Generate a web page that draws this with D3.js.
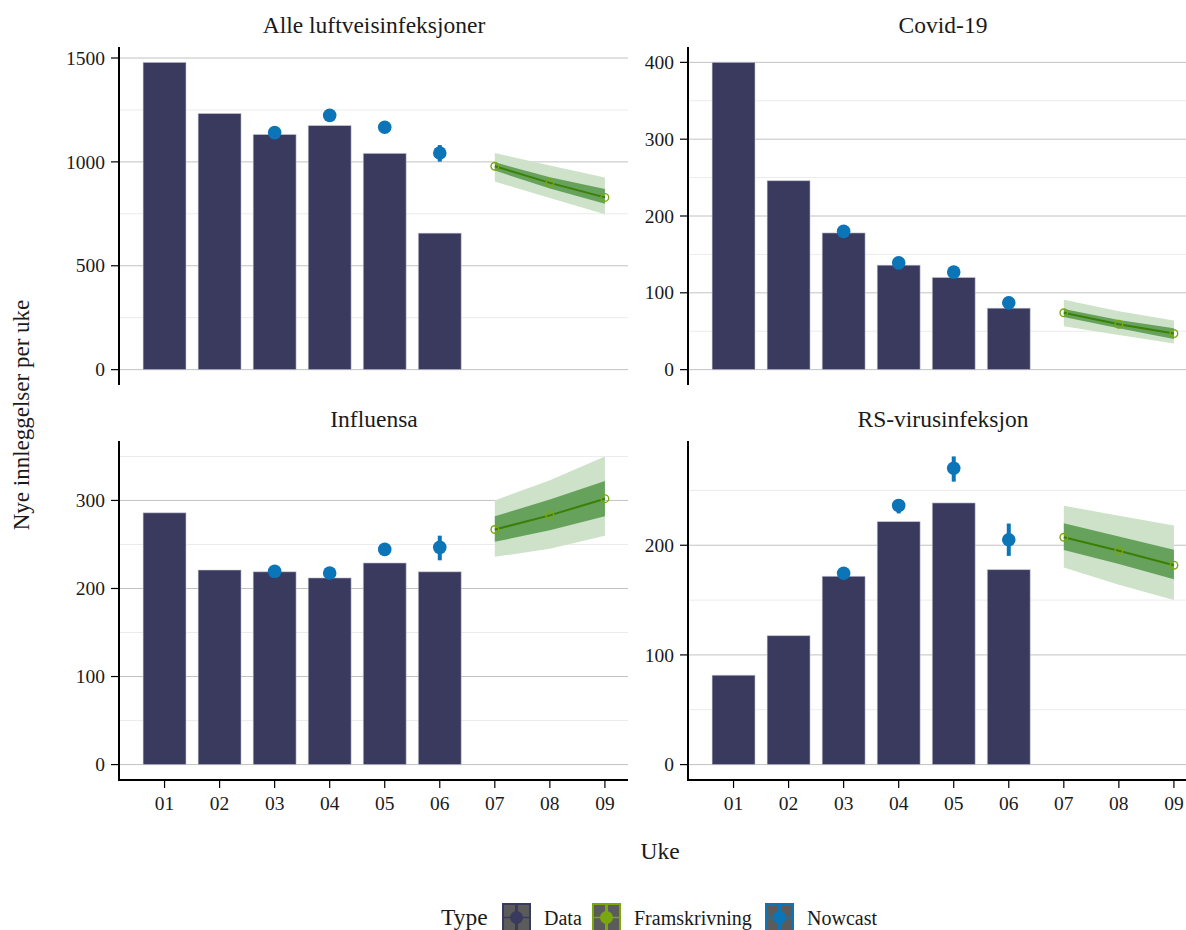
<!DOCTYPE html>
<html>
<head>
<meta charset="utf-8">
<script src="https://cdn.jsdelivr.net/npm/d3@7"></script>
<style>
  html, body { margin: 0; padding: 0; background: #ffffff; }
  svg { display: block; }
  text { font-family: "Liberation Serif", "DejaVu Serif", serif; fill: #1a1a1a; }
</style>
</head>
<body>
<svg id="chart" width="1186" height="930"></svg>
<script>
// Weekly hospital admissions: observed data, nowcast and projection per category
const weeks = ["01", "02", "03", "04", "05", "06", "07", "08", "09"];
const panelTitles = ["Alle luftveisinfeksjoner", "Covid-19", "Influensa", "RS-virusinfeksjon"];

// Observed admissions, weeks 01-06
const dataAlle  = [1479, 1233, 1132, 1175, 1041, 657];
const dataCovid = [400, 246, 178, 136, 120, 80];
const dataInfl  = [286, 221, 219, 212, 229, 219];
const dataRSV   = [81.5, 117.6, 171.7, 221.6, 238.6, 177.8];

// Nowcast, weeks 03-06 (estimate, lower, upper)
const nowcastWeeks = ["03", "04", "05", "06"];
const nowAlle   = [1141, 1224, 1167, 1043];
const nowAlleLo = [1135, 1216, 1157, 1001];
const nowAlleHi = [1148, 1232, 1177, 1081];
const nowCovid   = [180, 139, 127, 87];
const nowCovidLo = [177, 136, 124, 78];
const nowCovidHi = [183, 142, 130, 95];
const nowInfl   = [219.5, 217.6, 244.4, 246.7];
const nowInflLo = [217, 215, 237, 232];
const nowInflHi = [222, 220, 250, 260];
const nowRSV   = [174.5, 236.3, 270.2, 205];
const nowRSVLo = [172, 229, 258, 190.3];
const nowRSVHi = [177, 242, 281, 219.8];

// Projection, weeks 07-09 (median, inner band, outer band)
const forecastWeeks = ["07", "08", "09"];
const fcAlle       = [979, 899, 829];
const fcAlleIn     = [[958, 998], [872, 926], [799, 869]];
const fcAlleOut    = [[905, 1043], [826, 983], [748, 925]];
const fcCovid      = [74, 59, 47];
const fcCovidIn    = [[68.5, 79], [54, 64.5], [40, 54]];
const fcCovidOut   = [[56.5, 91], [45, 76], [34, 64]];
const fcInfl       = [267, 283, 302];
const fcInflIn     = [[253, 282], [266, 301], [282, 322]];
const fcInflOut    = [[236, 300], [245, 323], [260, 350]];
const fcRSV        = [207.3, 195, 181.8];
const fcRSVIn      = [[195.7, 220], [183, 208], [169, 196]];
const fcRSVOut     = [[179.6, 236], [164, 227], [150, 218]];

// Tick values per panel
const majorTicks = [[0, 500, 1000, 1500], [0, 100, 200, 300, 400], [0, 100, 200, 300], [0, 100, 200]];
const minorTicks = [[250, 750, 1250], [50, 150, 250, 350], [50, 150, 250, 350], [50, 150, 250]];

const legendTitle = "Type";
const legendLabels = ["Data", "Framskrivning", "Nowcast"];
const xTitle = "Uke";
const yTitle = "Nye innleggelser per uke";

const colData = "#393a5e";
const colNow = "#0b75b8";
const colFcLine = "#3a7f06";
const colFcPoint = "#7aa80a";
const colBandOut = "#cde2c9";
const colBandIn = "#66a25c";

const panels = [
  { title: panelTitles[0], data: dataAlle,  now: nowAlle,  nowLo: nowAlleLo,  nowHi: nowAlleHi,  fc: fcAlle,  fcIn: fcAlleIn,  fcOut: fcAlleOut },
  { title: panelTitles[1], data: dataCovid, now: nowCovid, nowLo: nowCovidLo, nowHi: nowCovidHi, fc: fcCovid, fcIn: fcCovidIn, fcOut: fcCovidOut },
  { title: panelTitles[2], data: dataInfl,  now: nowInfl,  nowLo: nowInflLo,  nowHi: nowInflHi,  fc: fcInfl,  fcIn: fcInflIn,  fcOut: fcInflOut },
  { title: panelTitles[3], data: dataRSV,   now: nowRSV,   nowLo: nowRSVLo,   nowHi: nowRSVHi,   fc: fcRSV,   fcIn: fcRSVIn,   fcOut: fcRSVOut }
];

const svg = d3.select("#chart");

const colX = [[120, 628], [689, 1197]];
const rowY = [[47, 385], [441, 780]];
const barWidth = 0.78;

// Week index (1..9) as a continuous position, padded like a facetted bar chart
const wk = w => weeks.indexOf(w) + 1;
const xMin = 1 - barWidth / 2, xMax = 9;
const xPad = (xMax - xMin) * 0.05;

panels.forEach((p, i) => {
  const col = i % 2, row = Math.floor(i / 2);
  const [x0, x1] = colX[col];
  const [y0, y1] = rowY[row];
  const g = svg.append("g");

  const x = d3.scaleLinear().domain([xMin - xPad, xMax + xPad]).range([x0, x1]);
  const maxVal = d3.max([d3.max(p.data), d3.max(p.nowHi), d3.max(p.fcOut, d => d[1])]);
  const yPad = maxVal * 0.05;
  const y = d3.scaleLinear().domain([-yPad, maxVal + yPad]).range([y1, y0]);

  // gridlines
  g.selectAll(".minor").data(minorTicks[i]).join("line")
    .attr("x1", x0).attr("x2", x1)
    .attr("y1", d => y(d)).attr("y2", d => y(d))
    .attr("stroke", "#ebebeb").attr("stroke-width", 1);
  g.selectAll(".major").data(majorTicks[i]).join("line")
    .attr("x1", x0).attr("x2", x1)
    .attr("y1", d => y(d)).attr("y2", d => y(d))
    .attr("stroke", "#c2c2c2").attr("stroke-width", 1);

  // bars
  g.selectAll(".bar").data(p.data).join("rect")
    .attr("x", (d, j) => x(j + 1 - barWidth / 2))
    .attr("width", x(barWidth) - x(0))
    .attr("y", d => y(d))
    .attr("height", d => y(0) - y(d))
    .attr("fill", colData)
    .attr("stroke", "#d6d6e2").attr("stroke-opacity", 0.55).attr("stroke-width", 1);

  // projection bands
  const fcRows = forecastWeeks.map((w, j) => ({ x: wk(w), m: p.fc[j], inn: p.fcIn[j], out: p.fcOut[j] }));
  g.append("path").datum(fcRows)
    .attr("d", d3.area().x(d => x(d.x)).y0(d => y(d.out[0])).y1(d => y(d.out[1])))
    .attr("fill", colBandOut);
  g.append("path").datum(fcRows)
    .attr("d", d3.area().x(d => x(d.x)).y0(d => y(d.inn[0])).y1(d => y(d.inn[1])))
    .attr("fill", colBandIn);
  g.append("path").datum(fcRows)
    .attr("d", d3.line().x(d => x(d.x)).y(d => y(d.m)))
    .attr("fill", "none").attr("stroke", colFcLine).attr("stroke-width", 2);
  g.selectAll(".fcpt").data(fcRows).join("circle")
    .attr("cx", d => x(d.x)).attr("cy", d => y(d.m)).attr("r", 3.8)
    .attr("fill", "none").attr("stroke", colFcPoint).attr("stroke-width", 1.4);

  // nowcast point ranges
  const nowRows = nowcastWeeks.map((w, j) => ({ x: wk(w), v: p.now[j], lo: p.nowLo[j], hi: p.nowHi[j] }));
  g.selectAll(".nowbar").data(nowRows).join("line")
    .attr("x1", d => x(d.x)).attr("x2", d => x(d.x))
    .attr("y1", d => y(d.lo)).attr("y2", d => y(d.hi))
    .attr("stroke", colNow).attr("stroke-width", 4);
  g.selectAll(".nowpt").data(nowRows).join("circle")
    .attr("cx", d => x(d.x)).attr("cy", d => y(d.v)).attr("r", 6.8)
    .attr("fill", colNow);

  // y axis
  g.append("line").attr("x1", x0 - 1).attr("x2", x0 - 1).attr("y1", y0).attr("y2", y1)
    .attr("stroke", "#000").attr("stroke-width", 2);
  g.selectAll(".ytick").data(majorTicks[i]).join("line")
    .attr("x1", x0 - 9).attr("x2", x0 - 1)
    .attr("y1", d => y(d)).attr("y2", d => y(d))
    .attr("stroke", "#000").attr("stroke-width", 1.2);
  g.selectAll(".ylab").data(majorTicks[i]).join("text")
    .attr("x", x0 - 15).attr("y", d => y(d)).attr("dy", "0.34em")
    .attr("text-anchor", "end").attr("font-size", 19.5)
    .text(d => d);

  // x axis on bottom row
  if (row === 1) {
    g.append("line").attr("x1", x0 - 2).attr("x2", x1).attr("y1", y1).attr("y2", y1)
      .attr("stroke", "#000").attr("stroke-width", 2);
    g.selectAll(".xtick").data(weeks).join("line")
      .attr("x1", d => x(wk(d))).attr("x2", d => x(wk(d)))
      .attr("y1", y1).attr("y2", y1 + 8)
      .attr("stroke", "#000").attr("stroke-width", 1.2);
    g.selectAll(".xlab").data(weeks).join("text")
      .attr("x", d => x(wk(d))).attr("y", y1 + 30)
      .attr("text-anchor", "middle").attr("font-size", 19.5)
      .text(d => d);
  }

  // panel title
  g.append("text").attr("x", (x0 + x1) / 2).attr("y", y0 - 14)
    .attr("text-anchor", "middle").attr("font-size", 23.5)
    .text(p.title);
});

// axis titles
svg.append("text").attr("x", 660).attr("y", 859)
  .attr("text-anchor", "middle").attr("font-size", 23.5).text(xTitle);
svg.append("text")
  .attr("transform", "translate(29,415) rotate(-90)")
  .attr("text-anchor", "middle").attr("font-size", 23).text(yTitle);

// legend
const legendColors = [colData, colFcPoint, colNow];
const legendKeyX = [503, 593, 766];
const legend = svg.append("g");
legend.append("text").attr("x", 441).attr("y", 925).attr("font-size", 23.5).text(legendTitle);
legendLabels.forEach((lab, k) => {
  const kx = legendKeyX[k], ky = 904, ks = 27;
  const c = legendColors[k];
  legend.append("rect").attr("x", kx).attr("y", ky).attr("width", ks).attr("height", ks)
    .attr("fill", "#5b5b5b").attr("stroke", c).attr("stroke-width", 2);
  legend.append("line").attr("x1", kx + ks / 2).attr("x2", kx + ks / 2)
    .attr("y1", ky + 1).attr("y2", ky + ks - 1).attr("stroke", c).attr("stroke-width", 3);
  legend.append("line").attr("x1", kx + 1).attr("x2", kx + ks - 1)
    .attr("y1", ky + ks / 2).attr("y2", ky + ks / 2).attr("stroke", c).attr("stroke-width", 1.5);
  legend.append("circle").attr("cx", kx + ks / 2).attr("cy", ky + ks / 2).attr("r", 6.5).attr("fill", c);
  legend.append("text").attr("x", kx + ks + 14).attr("y", 925).attr("font-size", 20).text(lab);
});
</script>
</body>
</html>
